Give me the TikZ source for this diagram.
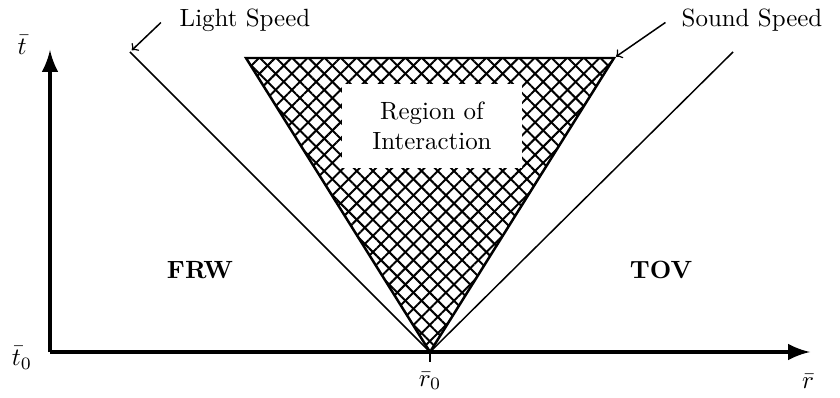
\documentclass[tikz,border=0pt]{standalone}
\usetikzlibrary{patterns.meta, positioning}

\begin{document}
\begin{tikzpicture}[x=0.141mm, y=-0.141mm, axis/.style={line width=2pt, -latex}, cone/.style={line width=0.6pt}, pointer/.style={->, line width=0.6pt, shorten >=1pt}, hatch/.style={pattern={Lines[angle=#1, distance=4.6pt, line width=0.8pt]}}]
\useasboundingbox (0,0) rectangle (840,398);
\coordinate (o) at (50,352);
\coordinate (r0) at (430,352);
\coordinate (ttop) at (50,50);
\coordinate (rend) at (810,352);
\coordinate (lightL) at (130,52);
\coordinate (lightR) at (733,52);
\coordinate (soundL) at (246,58);
\coordinate (soundR) at (614,58);
% region of interaction
\fill[hatch=45] (r0) -- (soundL) -- (soundR) -- cycle;
\fill[hatch=-45] (r0) -- (soundL) -- (soundR) -- cycle;
\draw[line width=1pt] (r0) -- (soundL) -- (soundR) -- cycle;
\node (region) [fill=white, align=center, minimum width=72pt, minimum height=34pt] at (432,126) {Region of\\Interaction};
% light cone
\draw[cone] (lightL) -- (r0) -- (lightR);
% axes
\draw[axis] (o) -- (ttop);
\draw[axis] (o) -- (rend);
\draw[cone] (r0) -- ++(0,10);
\node (tlab) at (22,45) {$\bar{t}$};
\node (t0lab) at (22,358) {$\bar{t}_0$};
\node (r0lab) at (430,381) {$\bar{r}_0$};
\node (rlab) at (808,381) {$\bar{r}$};
% labels
\node (lighttxt) at (245,20) {Light Speed};
\node (soundtxt) at (752,20) {Sound Speed};
\draw[pointer] ([xshift=-4pt, yshift=-1pt]lighttxt.west) -- (lightL);
\draw[pointer] ([xshift=-3pt, yshift=-1pt]soundtxt.west) -- (soundR);
\node (frw) at (200,270) {\bfseries FRW};
\node (tov) at (661,270) {\bfseries TOV};
\end{tikzpicture}
\end{document}
